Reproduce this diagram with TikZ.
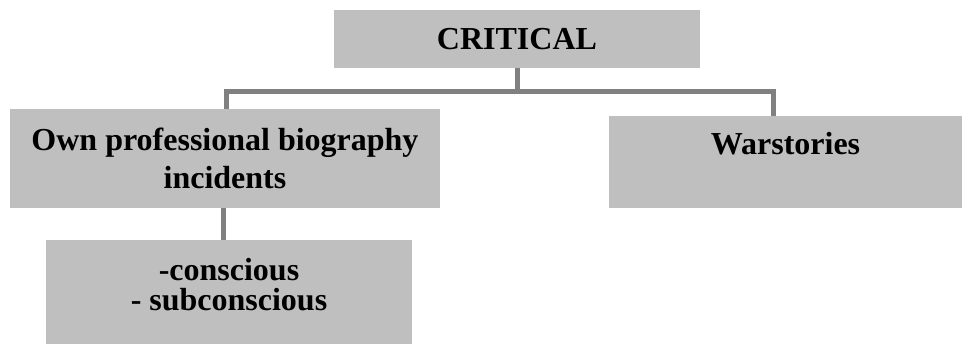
\documentclass[tikz,border=0pt]{standalone}
\usepackage{fontspec}
\setmainfont{Liberation Serif}
\usepackage{tikz}
\usetikzlibrary{calc}
\tikzset{%
  myedge/.style={draw=black!50, line width=5pt},
  mybox/.style={fill=black!25, inner sep=0pt, align=center, font=\fontsize{32}{38}\selectfont\bfseries}
}

\begin{document}
\begin{tikzpicture}[x=1pt, y=-1pt]
\useasboundingbox (0,0) rectangle (963,345);

\node (critical) [mybox, minimum width=366pt, minimum height=58pt] at (517, 39) {CRITICAL};
\node (own) [mybox, minimum width=430pt, minimum height=99pt] at (225, 158.5) {Own professional biography\\incidents};
\node (war) [mybox, minimum width=353pt, minimum height=92pt] at (785.5, 162) {Warstories\\\mbox{}};
\node (sub) [mybox, minimum width=366pt, minimum height=104pt, font=\fontsize{32}{30}\selectfont\bfseries] at (229, 292) {-conscious\\- subconscious\\[-14pt]\mbox{}};

% Verbindungen
\coordinate (bar) at (critical.south |- 0, 91);
\draw [myedge] (critical.south) -- (bar);
\draw [myedge] ($(own.north)+(1,0)$) |- (bar) -| ($(war.north)+(-12,0)$);
\draw [myedge] ($(own.south)+(-2,0)$) -- ($(sub.north)+(-6,0)$);
\end{tikzpicture}
\end{document}
